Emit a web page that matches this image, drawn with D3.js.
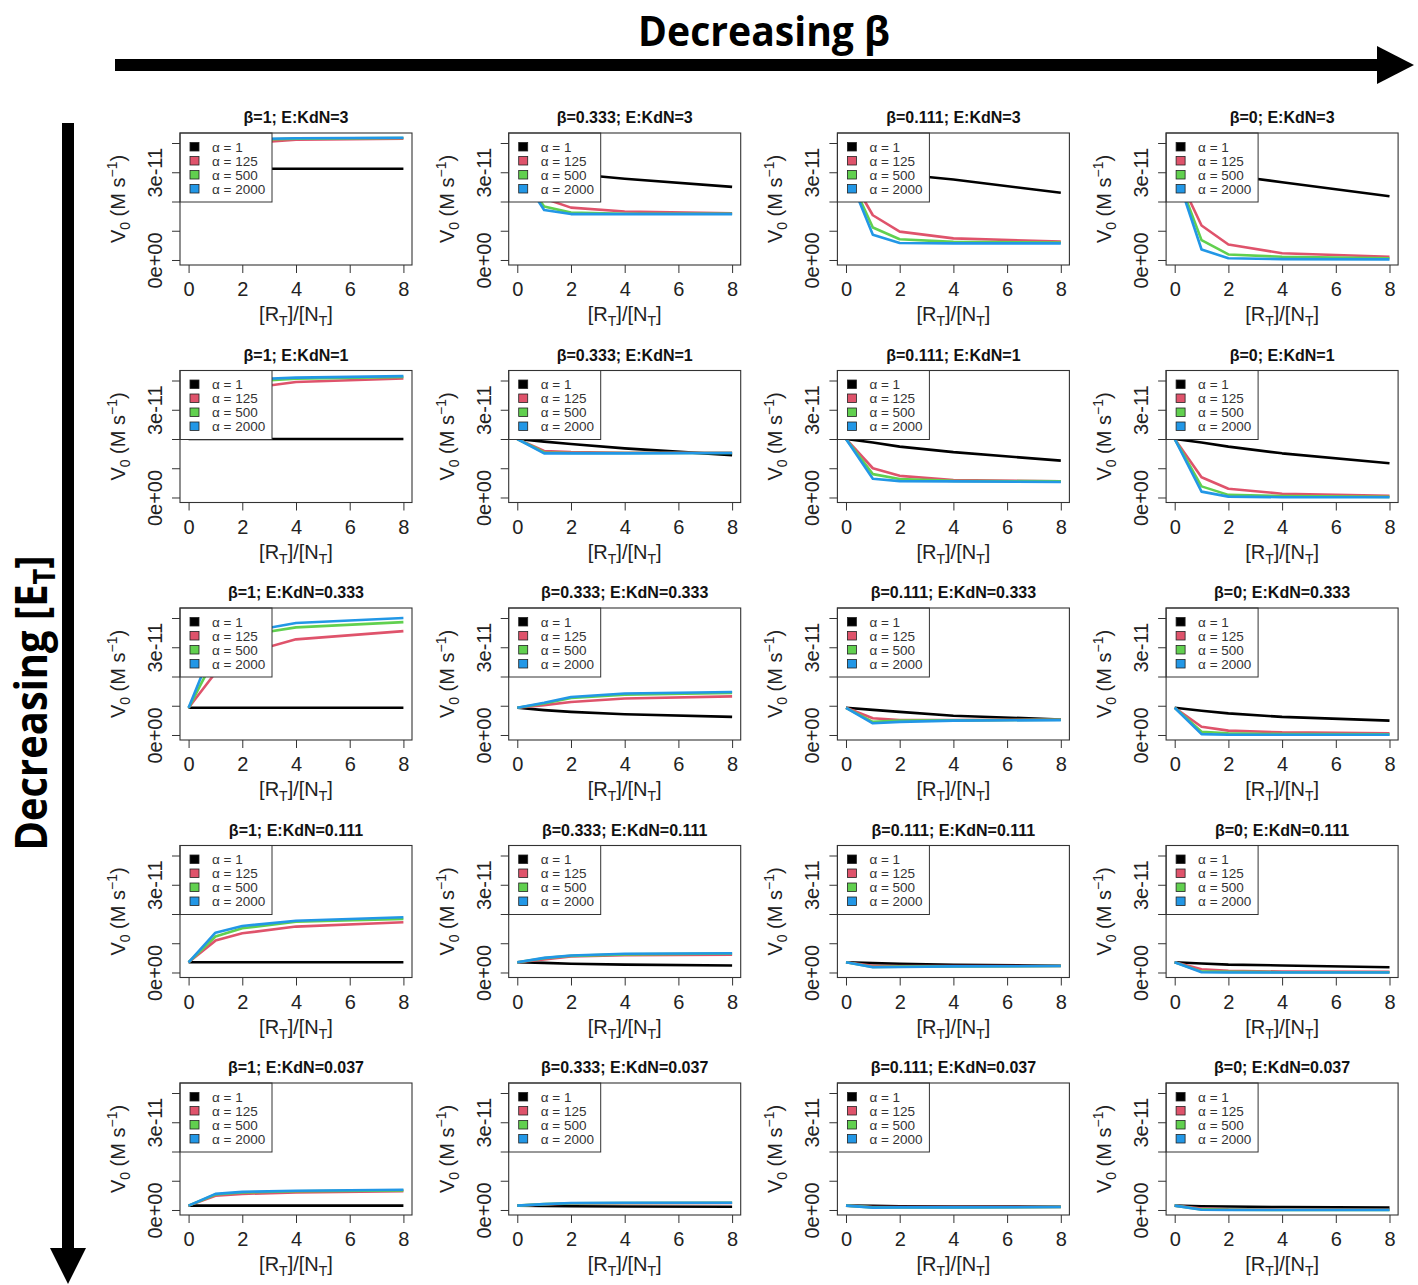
<!DOCTYPE html>
<html>
<head>
<meta charset="utf-8">
<script src="https://cdn.jsdelivr.net/npm/d3@7"></script>
<style>
  body { margin: 0; background: #fff; }
  svg { display: block; }
</style>
</head>
<body>
<svg id="chart" width="1418" height="1285"></svg>
<script>
// panel grid: columns = beta, rows = E:KdN
const betaLabels = ['1', '0.333', '0.111', '0'];
const kdnLabels = ['3', '1', '0.333', '0.111', '0.037'];
const ratios = [0, 1, 2, 4, 8];
const alphaLabels = ['α = 1', 'α = 125', 'α = 500', 'α = 2000'];
const xTicks = [0, 2, 4, 6, 8];
const yTicks = [0, 1e-11, 2e-11, 3e-11, 4e-11];
const yTickLabels = ['0e+00', '', '', '3e-11', ''];

// V0 values in units of 1e-11 M/s; per beta: [alpha=1, 125, 500, 2000]
const kdn3 = [
  [[3.12, 3.12, 3.12, 3.12, 3.12], [3.12, 3.75, 3.98, 4.11, 4.15], [3.12, 3.95, 4.10, 4.15, 4.17], [3.12, 4.05, 4.13, 4.16, 4.18]],
  [[3.12, 3.03, 2.95, 2.78, 2.50], [3.12, 2.10, 1.79, 1.66, 1.60], [3.12, 1.83, 1.62, 1.58, 1.58], [3.12, 1.71, 1.57, 1.57, 1.57]],
  [[3.12, 3.02, 2.93, 2.75, 2.30], [3.12, 1.53, 0.97, 0.74, 0.63], [3.12, 1.11, 0.71, 0.62, 0.60], [3.12, 0.86, 0.58, 0.57, 0.57]],
  [[3.12, 3.01, 2.90, 2.66, 2.18], [3.12, 1.18, 0.53, 0.23, 0.11], [3.12, 0.68, 0.19, 0.11, 0.06], [3.12, 0.36, 0.06, 0.03, 0.02]]
];
const kdn1 = [
  [[2.00, 2.00, 2.00, 2.00, 2.00], [2.00, 3.30, 3.71, 3.95, 4.07], [2.00, 3.65, 3.95, 4.06, 4.12], [2.00, 3.80, 4.03, 4.10, 4.15]],
  [[2.00, 1.91, 1.83, 1.68, 1.45], [2.00, 1.59, 1.55, 1.53, 1.53], [2.00, 1.54, 1.52, 1.52, 1.52], [2.00, 1.51, 1.51, 1.51, 1.52]],
  [[2.00, 1.88, 1.74, 1.55, 1.26], [2.00, 1.00, 0.74, 0.60, 0.55], [2.00, 0.80, 0.63, 0.57, 0.55], [2.00, 0.64, 0.56, 0.55, 0.53]],
  [[2.00, 1.88, 1.74, 1.51, 1.17], [2.00, 0.69, 0.30, 0.13, 0.06], [2.00, 0.38, 0.09, 0.05, 0.02], [2.00, 0.20, 0.03, 0.01, 0.01]]
];
const kdn0333 = [
  [[0.93, 0.93, 0.93, 0.93, 0.93], [0.93, 2.13, 2.76, 3.27, 3.55], [0.93, 2.70, 3.39, 3.68, 3.86], [0.93, 3.20, 3.50, 3.83, 4.00]],
  [[0.93, 0.85, 0.79, 0.71, 0.62], [0.93, 1.02, 1.13, 1.25, 1.32], [0.93, 1.08, 1.27, 1.38, 1.44], [0.93, 1.10, 1.30, 1.42, 1.47]],
  [[0.93, 0.86, 0.79, 0.66, 0.53], [0.93, 0.57, 0.51, 0.51, 0.53], [0.93, 0.45, 0.49, 0.50, 0.52], [0.93, 0.40, 0.45, 0.49, 0.51]],
  [[0.93, 0.83, 0.74, 0.62, 0.49], [0.93, 0.28, 0.15, 0.09, 0.06], [0.93, 0.11, 0.06, 0.03, 0.02], [0.93, 0.03, 0.01, 0.01, 0.01]]
];
const kdn0111 = [
  [[0.35, 0.35, 0.35, 0.35, 0.35], [0.35, 1.09, 1.34, 1.57, 1.72], [0.35, 1.23, 1.51, 1.74, 1.83], [0.35, 1.36, 1.59, 1.77, 1.89]],
  [[0.35, 0.33, 0.30, 0.27, 0.24], [0.35, 0.45, 0.55, 0.59, 0.61], [0.35, 0.49, 0.57, 0.62, 0.65], [0.35, 0.50, 0.58, 0.64, 0.66]],
  [[0.35, 0.32, 0.30, 0.26, 0.23], [0.35, 0.23, 0.22, 0.22, 0.22], [0.35, 0.19, 0.20, 0.21, 0.22], [0.35, 0.18, 0.19, 0.21, 0.22]],
  [[0.35, 0.31, 0.27, 0.24, 0.18], [0.35, 0.11, 0.06, 0.03, 0.02], [0.35, 0.03, 0.02, 0.01, 0.01], [0.35, 0.01, 0.00, 0.00, 0.00]]
];
const kdn0037 = [
  [[0.15, 0.15, 0.15, 0.15, 0.15], [0.15, 0.49, 0.55, 0.60, 0.64], [0.15, 0.53, 0.60, 0.64, 0.67], [0.15, 0.55, 0.62, 0.66, 0.69]],
  [[0.15, 0.14, 0.13, 0.12, 0.11], [0.15, 0.19, 0.22, 0.23, 0.24], [0.15, 0.20, 0.23, 0.24, 0.25], [0.15, 0.20, 0.24, 0.25, 0.25]],
  [[0.15, 0.14, 0.13, 0.12, 0.11], [0.15, 0.10, 0.10, 0.10, 0.10], [0.15, 0.09, 0.09, 0.09, 0.10], [0.15, 0.08, 0.09, 0.09, 0.10]],
  [[0.15, 0.13, 0.12, 0.10, 0.08], [0.15, 0.05, 0.02, 0.01, 0.01], [0.15, 0.02, 0.01, 0.00, 0.00], [0.15, 0.01, 0.00, 0.00, 0.00]]
];
const rows = [kdn3, kdn1, kdn0333, kdn0111, kdn0037];

const colors = ['#000000', '#DF536B', '#61D04F', '#2297E6'];

const svg = d3.select('#chart');
const font = 'Liberation Sans, Arial, Helvetica, sans-serif';

// panel geometry
const boxW = 232;
const boxH = 132;
const colStep = 328.7;
const rowStep = 237.5;
const firstLeft = 180;
const firstTop = 133;

const x = d3.scaleLinear().domain([-0.32, 8.32]).range([0, boxW]);
const y = d3.scaleLinear().domain([-0.171e-11, 4.342e-11]).range([boxH, 0]);

const line = d3.line()
  .x((d, i) => x(ratios[i]))
  .y(d => y(d * 1e-11));

rows.forEach((row, r) => {
  row.forEach((series, c) => {
    const g = svg.append('g')
      .attr('transform', `translate(${firstLeft + c * colStep},${firstTop + r * rowStep})`);

    // title
    g.append('text')
      .attr('x', boxW / 2)
      .attr('y', -10)
      .attr('text-anchor', 'middle')
      .attr('font-family', font)
      .attr('font-weight', 'bold')
      .attr('font-size', 16)
      .attr('fill', '#111')
      .text(`β=${betaLabels[c]}; E:KdN=${kdnLabels[r]}`);

    // lines
    series.forEach((vals, k) => {
      g.append('path')
        .attr('d', line(vals))
        .attr('fill', 'none')
        .attr('stroke', colors[k])
        .attr('stroke-width', 2.6)
        .attr('stroke-linejoin', 'round');
    });

    // legend (white box at top left, covers lines)
    const leg = g.append('g');
    leg.append('rect')
      .attr('x', 0).attr('y', 0)
      .attr('width', 92).attr('height', 69)
      .attr('fill', '#fff')
      .attr('stroke', '#333')
      .attr('stroke-width', 1);
    alphaLabels.forEach((lab, k) => {
      const cy = 14 + k * 14;
      leg.append('rect')
        .attr('x', 10).attr('y', cy - 4.5)
        .attr('width', 9).attr('height', 8.5)
        .attr('fill', colors[k])
        .attr('stroke', '#222')
        .attr('stroke-width', 0.8);
      leg.append('text')
        .attr('x', 32).attr('y', cy + 4.5)
        .attr('font-family', font)
        .attr('font-size', 13.5)
        .attr('fill', '#333')
        .text(lab);
    });

    // box
    g.append('rect')
      .attr('width', boxW).attr('height', boxH)
      .attr('fill', 'none')
      .attr('stroke', '#333')
      .attr('stroke-width', 1.1);

    // x axis
    const xa = g.append('g')
      .attr('transform', `translate(0,${boxH})`)
      .call(d3.axisBottom(x).tickValues(xTicks).tickSize(8).tickPadding(9));
    xa.select('.domain').remove();
    xa.selectAll('line').attr('stroke', '#333');
    xa.selectAll('text')
      .attr('font-family', font)
      .attr('font-size', 20)
      .attr('fill', '#222');

    // y axis
    const ya = g.append('g')
      .call(d3.axisLeft(y).tickValues(yTicks).tickSize(8)
        .tickFormat((d, i) => yTickLabels[i]));
    ya.select('.domain').remove();
    ya.selectAll('line').attr('stroke', '#333');
    ya.selectAll('text')
      .attr('transform', 'rotate(-90)')
      .attr('x', 0)
      .attr('y', -18)
      .attr('dy', 0)
      .attr('text-anchor', 'middle')
      .attr('font-family', font)
      .attr('font-size', 20)
      .attr('fill', '#222');

    // axis titles
    const xt = g.append('text')
      .attr('x', boxW / 2)
      .attr('y', boxH + 56)
      .attr('text-anchor', 'middle')
      .attr('font-family', font)
      .attr('font-size', 20)
      .attr('fill', '#222');
    xt.append('tspan').text('[R');
    xt.append('tspan').attr('font-size', 14).attr('dy', 5).text('T');
    xt.append('tspan').attr('dy', -5).text(']/[N');
    xt.append('tspan').attr('font-size', 14).attr('dy', 5).text('T');
    xt.append('tspan').attr('dy', -5).text(']');

    const yt = g.append('text')
      .attr('transform', `translate(-55,${boxH / 2}) rotate(-90)`)
      .attr('text-anchor', 'middle')
      .attr('font-family', font)
      .attr('font-size', 20)
      .attr('fill', '#222');
    yt.append('tspan').text('V');
    yt.append('tspan').attr('font-size', 14).attr('dy', 5).text('0');
    yt.append('tspan').attr('dy', -5).text(' (M s');
    yt.append('tspan').attr('font-size', 14).attr('dy', -8).text('−1');
    yt.append('tspan').attr('dy', 8).text(')');
  });
});

// header arrow
svg.append('rect')
  .attr('x', 115).attr('y', 59)
  .attr('width', 1268).attr('height', 12)
  .attr('fill', '#000');
svg.append('path')
  .attr('d', 'M1377,46 L1414,65 L1377,84 Z')
  .attr('fill', '#000');

// left arrow
svg.append('rect')
  .attr('x', 62).attr('y', 123)
  .attr('width', 12).attr('height', 1130)
  .attr('fill', '#000');
svg.append('path')
  .attr('d', 'M50,1248 L68,1284 L86,1248 Z')
  .attr('fill', '#000');

// big labels, squeezed to the measured widths
function squeeze(sel, width) {
  const w = sel.node().getComputedTextLength();
  return width / w;
}

const betaTitle = svg.append('text')
  .attr('font-family', 'Open Sans, Lato, sans-serif')
  .attr('font-weight', 'bold')
  .attr('font-size', 42)
  .attr('text-anchor', 'middle')
  .attr('fill', '#000')
  .text('Decreasing β');
betaTitle.attr('transform', `translate(764,46) scale(${squeeze(betaTitle, 252)},1)`);

const etTitle = svg.append('text')
  .attr('font-family', 'Open Sans, Lato, sans-serif')
  .attr('font-weight', 'bold')
  .attr('font-size', 44)
  .attr('text-anchor', 'middle')
  .attr('fill', '#000');
etTitle.append('tspan').text('Decreasing [E');
etTitle.append('tspan').attr('font-size', 30).attr('dy', 8).text('T');
etTitle.append('tspan').attr('dy', -8).text(']');
etTitle.attr('transform', `translate(47,703) rotate(-90) scale(${squeeze(etTitle, 295)},1)`);
</script>
</body>
</html>
